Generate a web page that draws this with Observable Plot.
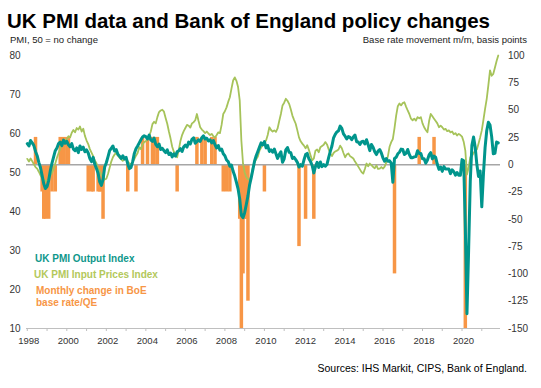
<!DOCTYPE html>
<html><head><meta charset="utf-8">
<script src="https://cdn.jsdelivr.net/npm/d3@7"></script>
<script src="https://cdn.jsdelivr.net/npm/@observablehq/plot@0.6"></script>
<style>
body{margin:0;background:#fff;font-family:"Liberation Sans",Arial,sans-serif;}
#wrap{position:relative;width:541px;height:388px;overflow:hidden;background:#fff;}
.t{position:absolute;white-space:nowrap;line-height:1;}
#chart{position:absolute;left:0;top:48px;}
</style></head><body>
<div id="wrap">
  <div class="t" style="left:7px;top:11px;font-size:20.5px;font-weight:bold;color:#000;">UK PMI data and Bank of England policy changes</div>
  <div class="t" style="left:10px;top:35px;font-size:9.5px;color:#222;">PMI, 50 = no change</div>
  <div class="t" style="right:14px;top:35px;font-size:9.5px;color:#222;">Base rate movement m/m, basis points</div>
  <div id="chart"></div>
  <div class="t" style="left:35px;top:254px;font-size:10px;font-weight:bold;color:#0f978b;">UK PMI Output Index</div>
  <div class="t" style="left:34px;top:270px;font-size:10px;font-weight:bold;color:#b3c85a;">UK PMI Input Prices Index</div>
  <div class="t" style="left:36px;top:286px;font-size:10px;font-weight:bold;color:#f79646;">Monthly change in BoE</div>
  <div class="t" style="left:36px;top:298px;font-size:10px;font-weight:bold;color:#f79646;">base rate/QE</div>
  <div class="t" style="right:14px;top:363px;font-size:10.5px;color:#000;">Sources: IHS Markit, CIPS, Bank of England.</div>
</div>
<script>
// Monthly data, Jan 1998 .. Nov 2021
const startYear = 1998;
const outputIndex = [
57.4,56.8,58.2,57.6,56.9,55.4,54.3,52.6,51.3,49.2,47.1,45.9,
46.4,48.0,50.5,52.4,54.0,55.6,56.3,57.4,57.8,56.9,58.3,57.5,
58.0,57.1,56.6,57.4,56.0,55.6,56.3,55.1,56.8,55.9,56.5,55.3,
55.8,55.0,53.6,52.8,53.9,52.1,51.0,49.8,47.6,46.7,48.2,51.4,
52.5,54.0,55.6,56.2,56.8,55.5,55.9,54.7,54.2,53.6,54.3,53.5,
53.9,52.2,51.0,51.3,52.8,54.9,56.1,56.8,57.6,58.4,59.1,59.4,
59.2,58.6,59.6,58.3,58.0,58.8,57.2,56.6,57.3,55.9,56.2,55.6,
55.1,55.8,54.6,55.0,54.0,54.8,54.2,55.3,55.6,56.1,55.4,56.6,
57.0,56.5,57.8,57.3,58.5,58.9,57.5,57.9,58.4,58.0,58.9,59.4,
58.6,58.8,58.1,58.4,57.6,58.2,57.1,56.3,56.9,55.7,56.0,54.8,
54.3,53.2,52.8,51.6,51.9,50.3,49.1,47.5,45.8,43.2,39.0,38.4,
39.7,41.8,44.0,46.8,48.7,50.8,52.9,54.3,55.4,56.5,57.6,57.1,
57.9,56.3,56.9,55.4,55.8,55.2,56.0,54.8,53.6,54.6,55.3,52.6,
53.5,55.8,56.4,55.2,55.1,53.6,53.9,53.3,52.6,51.4,52.0,51.6,
53.2,54.6,54.9,53.5,52.8,51.8,49.9,51.5,52.6,51.3,52.7,51.5,
52.0,51.6,52.1,53.8,55.4,56.8,58.9,59.8,60.4,60.7,61.9,61.3,
59.9,59.3,58.6,59.2,59.0,58.4,59.1,59.6,57.9,57.8,57.2,57.9,
58.0,57.3,58.4,57.1,55.6,57.2,56.5,55.3,54.6,55.5,55.9,55.0,
53.7,52.9,53.6,52.9,53.0,52.4,47.5,53.6,53.9,54.8,55.2,56.0,
55.9,54.6,54.9,55.9,54.6,53.8,53.8,54.0,54.1,55.6,54.9,54.9,
53.5,53.5,52.4,53.2,54.5,55.1,53.5,54.2,53.9,52.1,50.8,51.4,
50.3,51.5,50.9,50.9,50.9,49.7,50.7,50.2,49.3,50.0,49.3,49.3,
53.3,53.0,36.0,13.8,30.0,47.7,57.0,59.1,56.5,52.1,49.0,50.4,
41.2,49.6,56.4,60.7,62.9,62.2,59.2,54.8,54.9,57.8,57.6
];
const inputPrices = [
53.5,52.8,53.6,52.9,52.1,51.4,51.0,50.2,49.3,48.6,48.1,47.8,
47.9,48.3,49.2,50.0,50.9,52.3,53.8,55.0,56.1,57.0,58.2,58.0,
58.6,59.3,59.0,60.2,60.9,60.3,61.4,61.0,61.8,60.5,61.2,59.4,
58.2,57.3,56.0,55.1,54.2,53.1,52.4,51.0,50.3,49.4,48.8,48.2,
48.4,49.6,51.2,52.8,53.9,54.6,55.1,54.3,53.8,53.4,53.0,53.3,
53.6,52.9,52.3,52.1,52.8,53.4,54.3,55.0,56.5,56.0,57.2,57.8,
58.0,58.6,59.4,60.5,62.4,63.0,62.6,64.2,65.5,65.9,66.1,65.6,
64.0,62.5,60.5,58.7,56.6,55.3,54.6,53.9,55.8,58.1,59.6,60.6,
61.4,62.2,62.0,61.5,62.6,62.9,63.4,65.0,63.2,61.6,61.0,60.6,
60.1,60.5,60.0,59.6,59.9,59.3,59.0,59.6,60.3,60.1,62.2,65.0,
65.7,66.7,68.1,69.3,71.5,73.6,74.4,73.5,71.9,68.5,58.2,52.3,
50.0,48.8,48.3,48.0,49.1,51.4,52.6,53.4,54.1,55.6,56.4,57.0,
57.8,58.2,59.6,61.6,60.9,60.5,60.8,60.4,61.3,63.2,65.0,67.2,
67.9,68.9,68.4,67.6,66.2,64.6,63.5,62.5,60.8,59.0,58.0,57.4,
56.9,56.2,57.0,55.8,54.4,53.1,53.6,55.6,55.9,55.2,56.5,56.8,
57.1,57.8,57.2,56.0,54.9,54.2,55.0,55.4,55.6,55.9,56.9,56.2,
55.0,53.9,54.6,54.9,54.2,53.9,53.6,52.8,52.2,51.5,50.8,50.1,
49.7,50.9,52.3,51.6,52.3,51.9,51.4,51.1,51.8,50.9,51.0,51.4,
51.0,51.5,52.6,54.2,56.6,57.8,58.6,61.4,64.6,67.0,67.7,67.2,
67.8,68.0,66.9,65.9,65.0,63.8,63.4,63.8,63.3,64.2,63.9,64.2,
62.6,61.6,60.9,60.3,63.2,65.0,64.4,63.8,63.2,62.6,61.6,62.0,
61.6,61.0,61.2,60.6,60.8,60.3,60.5,59.8,60.1,59.5,59.9,59.6,
59.2,57.9,55.6,49.5,51.2,53.9,54.2,55.0,55.6,55.9,57.4,59.0,
60.8,63.5,66.3,68.9,72.4,76.2,74.8,75.3,76.9,78.6,80.0
];
// BoE base rate / QE changes, basis points (QE: £1bn = 1bp)
const bpMonths = ["1998-06","1998-10","1998-11","1998-12","1999-01","1999-02","1999-04","1999-06",
"1999-09","1999-11","2000-01","2000-02","2001-02","2001-04","2001-05","2001-08","2001-09","2001-10","2001-11",
"2003-02","2003-07","2003-11","2004-02","2004-05","2004-06","2004-08","2005-08","2006-08","2006-11",
"2007-01","2007-05","2007-07","2007-12","2008-02","2008-04","2008-10","2008-11","2008-12","2009-01",
"2009-02","2009-03","2010-01","2011-10","2012-02","2012-07","2016-08","2017-11","2018-08","2020-03"];
const bpChange = [25,-25,-50,-50,-25,-50,-25,-25,
25,25,25,25,-25,-25,-25,-25,-25,-25,-50,
-25,-25,25,25,25,25,25,-25,25,25,
25,25,25,-25,-25,-25,-50,-150,-100,-50,
-50,-125,-25,-75,-50,-50,-100,25,25,-265];
const leftTicks = [10,20,30,40,50,60,70,80];
const rightTicks = [-150,-125,-100,-75,-50,-25,0,25,50,75,100];
const yearTicks = d3.range(1998, 2022);
const labelYears = [1998,2000,2002,2004,2006,2008,2010,2012,2014,2016,2018,2020];

// right axis (bp) expressed on the left (PMI) scale
const bpZero = 52, bpScale = 0.28;
const toPmi = bp => bpZero + bpScale * bp;

const teal = "#00958c", green = "#a6c35a", orange = "#f79646";

const pmi = outputIndex.map((v, i) => ({t: startYear + i / 12, output: v, input: inputPrices[i]}));
const bars = bpMonths.map((s, i) => {
  const [y, m] = s.split("-").map(Number);
  return {t: y + (m - 1) / 12, bp: bpChange[i]};
});

const chart = Plot.plot({
  width: 541, height: 300,
  marginLeft: 26, marginRight: 41, marginTop: 7, marginBottom: 20,
  style: {fontFamily: "'Liberation Sans', Arial, sans-serif", fontSize: "10px", color: "#333", background: "transparent", overflow: "visible"},
  x: {domain: [1997.96, 2021.947]},
  y: {domain: [10, 80]},
  marks: [
    Plot.ruleX(bars, {x: "t", y1: () => bpZero, y2: d => toPmi(d.bp), stroke: orange, strokeWidth: 3.5, clip: true}),
    Plot.ruleY([bpZero], {stroke: "#a6a6a6", strokeWidth: 1.5}),
    Plot.ruleY([10], {stroke: "#bfbfbf", strokeWidth: 1}),
    Plot.axisX({ticks: yearTicks, tickSize: 3, tickFormat: () => "", stroke: "#bfbfbf", label: null}),
    Plot.axisX({ticks: labelYears, tickSize: 0, tickPadding: 9, tickFormat: d => String(d), dx: 1.5, fontSize: 9.5, label: null}),
    Plot.axisY({ticks: leftTicks, anchor: "left", tickSize: 0, tickPadding: 6, label: null}),
    Plot.axisY({ticks: rightTicks.map(toPmi), anchor: "right", tickSize: 0, tickPadding: 7.5,
      tickFormat: v => String(Math.round((v - bpZero) / bpScale)), label: null}),
    Plot.line(pmi, {x: "t", y: "input", stroke: green, strokeWidth: 1.8}),
    Plot.line(pmi, {x: "t", y: "output", stroke: teal, strokeWidth: 3})
  ]
});
document.getElementById("chart").appendChild(chart);
</script>
</body></html>
